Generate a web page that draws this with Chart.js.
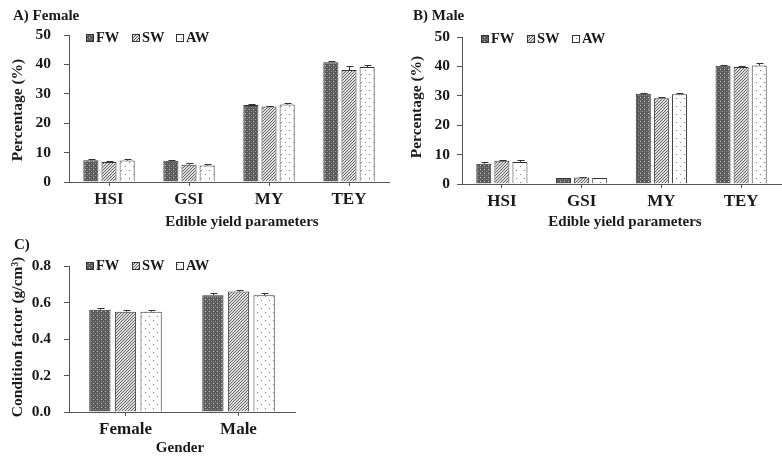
<!DOCTYPE html>
<html>
<head>
<meta charset="utf-8">
<script src="https://cdn.jsdelivr.net/npm/chart.js@4.4.0/dist/chart.umd.min.js"></script>
<style>
  body { margin: 0; background: #fff; }
  #wrap { position: relative; width: 782px; height: 457px; }
  canvas { position: absolute; }
</style>
</head>
<body>
<div id="wrap">
  <canvas id="chartA" style="left:0;top:0" width="395" height="230"></canvas>
  <canvas id="chartB" style="left:395px;top:0" width="387" height="230"></canvas>
  <canvas id="chartC" style="left:0;top:230px" width="395" height="227"></canvas>
</div>
<script>
// categories and series
const seriesNames = ['FW', 'SW', 'AW'];
const yieldParams = ['HSI', 'GSI', 'MY', 'TEY'];
const genders = ['Female', 'Male'];

// A) Female edible yield (%)
const femaleFW = [7.4, 7.2, 26.2, 40.7];
const femaleSW = [6.8, 5.9, 25.7, 38.1];
const femaleAW = [7.3, 5.6, 26.4, 39.1];
const femaleErrFW = [0.3, 0.3, 0.2, 0.5];
const femaleErrSW = [0.2, 0.7, 0.3, 1.3];
const femaleErrAW = [0.4, 0.4, 0.6, 0.8];

// B) Male edible yield (%)
const maleFW = [6.9, 2.0, 30.7, 40.2];
const maleSW = [7.9, 2.2, 29.2, 39.8];
const maleAW = [7.5, 2.0, 30.5, 40.3];
const maleErrFW = [0.5, 0.1, 0.3, 0.4];
const maleErrSW = [0.3, 0.1, 0.3, 0.2];
const maleErrAW = [0.5, 0.1, 0.5, 0.8];

// C) Condition factor (g/cm3)
const conditionFW = [0.56, 0.64];
const conditionSW = [0.55, 0.66];
const conditionAW = [0.55, 0.64];
const conditionErrFW = [0.01, 0.01];
const conditionErrSW = [0.01, 0.01];
const conditionErrAW = [0.01, 0.01];

// tick labels
const percentTicks = [0, 10, 20, 30, 40, 50];
const conditionTicks = [0, 0.2, 0.4, 0.6, 0.8];

const FONT = '"Liberation Serif", "Times New Roman", serif';
const INK = '#1a1a1a';
const AXIS = '#555';

Chart.defaults.font.family = FONT;
Chart.defaults.font.weight = 'bold';
Chart.defaults.color = INK;

function makePattern(size, bg, dots) {
    const c = document.createElement('canvas');
    c.width = size;
    c.height = size;
    const g = c.getContext('2d');
    g.fillStyle = bg;
    g.fillRect(0, 0, size, size);
    dots.forEach(d => {
        g.fillStyle = d[2];
        g.fillRect(d[0], d[1], 1, 1);
    });
    return g.createPattern(c, 'repeat');
}

const fills = [
    // FW - dark checker
    makePattern(4, '#5a5a5a', [[1, 1, '#d0d0d0'], [3, 3, '#959595'], [1, 3, '#787878']]),
    // SW - diagonal hatching
    makePattern(3, '#dedede', [[2, 0, '#666'], [1, 1, '#666'], [0, 2, '#666']]),
    // AW - sparse dots
    makePattern(8, '#ffffff', [[1, 2, '#777'], [5, 6, '#777']])
];

const errorBars = {
    id: 'errorBars',
    afterDatasetsDraw(chart) {
        const ctx = chart.ctx;
        const y = chart.scales.y;
        ctx.save();
        ctx.strokeStyle = '#333';
        ctx.lineWidth = 1;
        chart.data.datasets.forEach((ds, i) => {
            const meta = chart.getDatasetMeta(i);
            meta.data.forEach((bar, j) => {
                const top = Math.round(y.getPixelForValue(ds.data[j] + ds.errors[j])) + 0.5;
                const base = y.getPixelForValue(ds.data[j]);
                const x = Math.round(bar.x) + 0.5;
                ctx.beginPath();
                ctx.moveTo(x, base);
                ctx.lineTo(x, top);
                ctx.moveTo(x - 3, top);
                ctx.lineTo(x + 4, top);
                ctx.stroke();
            });
        });
        ctx.restore();
    }
};

const decor = {
    id: 'decor',
    afterDraw(chart, args, opts) {
        const ctx = chart.ctx;
        const area = chart.chartArea;
        ctx.save();
        ctx.fillStyle = INK;
        ctx.textBaseline = 'middle';

        ctx.font = 'bold 15px ' + FONT;
        ctx.textAlign = 'left';
        ctx.fillText(opts.title, opts.titleX, opts.titleY);

        ctx.font = 'bold 15px ' + FONT;
        ctx.textAlign = 'center';
        ctx.fillText(opts.xTitle, opts.xTitleX, opts.xTitleY);

        ctx.save();
        ctx.translate(opts.yTitleX, opts.yTitleY);
        ctx.rotate(-Math.PI / 2);
        ctx.font = 'bold 15.5px ' + FONT;
        ctx.fillText(opts.yTitle, 0, 0);
        ctx.restore();

        // legend
        ctx.font = 'bold 14.5px ' + FONT;
        ctx.textAlign = 'left';
        const ly = area.top + opts.legendDy;
        chart.data.datasets.forEach((ds, i) => {
            const lx = area.left + opts.legendX[i];
            ctx.fillStyle = ds.backgroundColor;
            ctx.fillRect(lx, ly - 4, 8, 8);
            ctx.strokeStyle = '#333';
            ctx.lineWidth = 1;
            ctx.strokeRect(lx + 0.5, ly - 3.5, 7, 7);
            ctx.fillStyle = INK;
            ctx.fillText(ds.label, lx + 10, ly);
        });
        ctx.restore();
    }
};

function buildDatasets(values, errors) {
    return seriesNames.map((name, i) => ({
        label: name,
        data: values[i],
        errors: errors[i],
        backgroundColor: fills[i],
        borderColor: '#333',
        borderWidth: 1,
        categoryPercentage: 0.68,
        barPercentage: 0.83
    }));
}

function makeChart(id, cfg) {
    return new Chart(document.getElementById(id), {
        type: 'bar',
        data: {
            labels: cfg.labels,
            datasets: buildDatasets(cfg.values, cfg.errors)
        },
        plugins: [errorBars, decor],
        options: {
            responsive: false,
            animation: false,
            layout: { padding: cfg.padding },
            plugins: {
                legend: { display: false },
                tooltip: { enabled: false },
                decor: cfg.decor
            },
            scales: {
                x: {
                    offset: true,
                    grid: { drawOnChartArea: false, offset: false, tickLength: 4, color: AXIS },
                    border: { color: AXIS },
                    ticks: { font: { size: 17, weight: 'bold' }, padding: 3, color: INK },
                    afterFit: s => { s.height = cfg.xHeight; }
                },
                y: {
                    min: cfg.ticks[0],
                    max: cfg.ticks[cfg.ticks.length - 1],
                    afterBuildTicks: s => { s.ticks = cfg.ticks.map(v => ({ value: v })); },
                    grid: { drawOnChartArea: false, tickLength: 5, color: AXIS },
                    border: { color: AXIS },
                    ticks: {
                        font: { size: 15.5, weight: 'bold' },
                        padding: cfg.yPad,
                        color: INK,
                        callback: cfg.tickFmt
                    },
                    afterFit: s => { s.width = cfg.yWidth; }
                }
            }
        }
    });
}

makeChart('chartA', {
    labels: yieldParams,
    values: [femaleFW, femaleSW, femaleAW],
    errors: [femaleErrFW, femaleErrSW, femaleErrAW],
    ticks: percentTicks,
    tickFmt: v => v,
    padding: { top: 35, right: 6, left: 0, bottom: 0 },
    xHeight: 48,
    yWidth: 69,
    yPad: 13,
    decor: {
        title: 'A) Female', titleX: 13, titleY: 16,
        xTitle: 'Edible yield parameters', xTitleX: 242, xTitleY: 222,
        yTitle: 'Percentage (%)', yTitleX: 18, yTitleY: 110,
        legendX: [17, 63, 107], legendDy: 3
    }
});

makeChart('chartB', {
    labels: yieldParams,
    values: [maleFW, maleSW, maleAW],
    errors: [maleErrFW, maleErrSW, maleErrAW],
    ticks: percentTicks,
    tickFmt: v => v,
    padding: { top: 37, right: 1, left: 0, bottom: 0 },
    xHeight: 46,
    yWidth: 67,
    yPad: 7,
    decor: {
        title: 'B) Male', titleX: 18, titleY: 16,
        xTitle: 'Edible yield parameters', xTitleX: 230, xTitleY: 222,
        yTitle: 'Percentage (%)', yTitleX: 22, yTitleY: 107,
        legendX: [19, 65, 110], legendDy: 2
    }
});

makeChart('chartC', {
    labels: genders,
    values: [conditionFW, conditionSW, conditionAW],
    errors: [conditionErrFW, conditionErrSW, conditionErrAW],
    ticks: conditionTicks,
    tickFmt: v => v.toFixed(1),
    padding: { top: 36, right: 100, left: 0, bottom: 0 },
    xHeight: 45,
    yWidth: 69,
    yPad: 13,
    decor: {
        title: 'C)', titleX: 14, titleY: 15,
        xTitle: 'Gender', xTitleX: 180, xTitleY: 218,
        yTitle: 'Condition factor (g/cm³)', yTitleX: 18, yTitleY: 107,
        legendX: [17, 63, 107], legendDy: 0
    }
});
</script>
</body>
</html>
